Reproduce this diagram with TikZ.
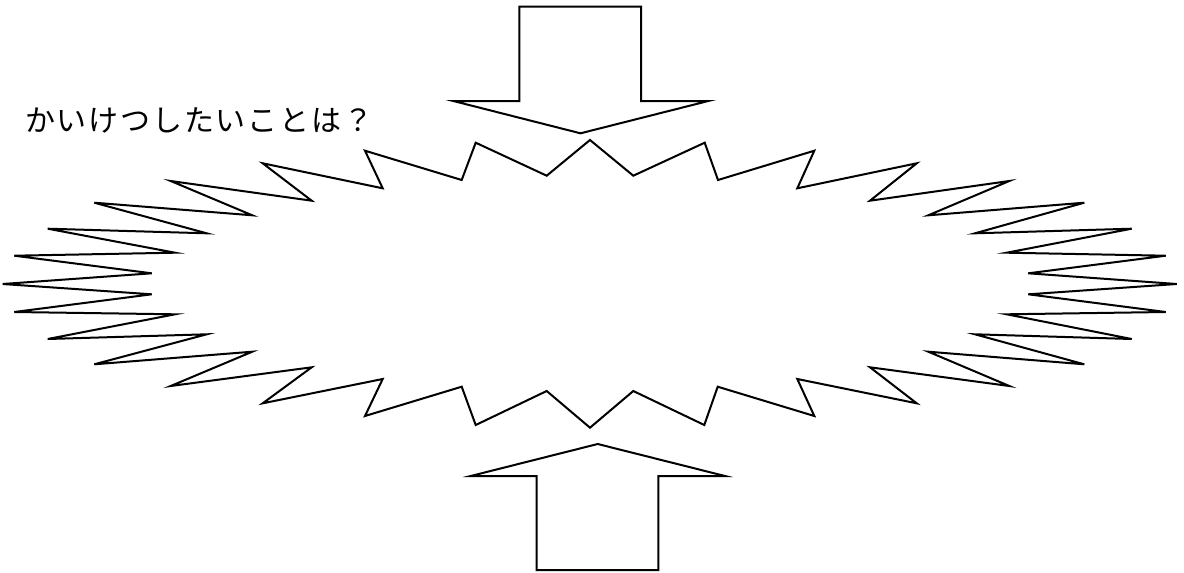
\documentclass[tikz,border=0pt]{standalone}
\usepackage{fontspec}
\newfontfamily\jpfont[LetterSpace=6]{Noto Sans CJK JP}
\usetikzlibrary{positioning}

\begin{document}
\begin{tikzpicture}[x=1pt, y=-1pt, line join=miter,
  outline/.style={draw=black, line width=2pt, fill=white},
  question/.style={font=\jpfont\fontsize{30}{30}\selectfont, inner sep=0pt, anchor=west}]
\useasboundingbox (0,0) rectangle (1184,573);

% burst
\draw[outline] (590,140) -- (633.3,175.7) -- (704.7,142.7) -- (718,180)
  -- (814.3,150.7) -- (797.3,188.3) -- (916.7,163.3) -- (870,200.7)
  -- (1009.3,181) -- (928.3,215.3) -- (1084.3,202.7) -- (975,233.3)
  -- (1131.7,228.7) -- (1006.7,252.7) -- (1165.7,255.7) -- (1028.3,273.3)
  -- (1176.7,284) -- (1028.3,294.3) -- (1165.7,312) -- (1006.7,314.3)
  -- (1131.7,339) -- (975,334.3) -- (1084.3,364.3) -- (928.3,351.7)
  -- (1009.3,386) -- (870,367.3) -- (916.7,403.3) -- (797.3,379)
  -- (814.3,416) -- (717.7,386.7) -- (704.3,425) -- (633.3,391)
  -- (590,427.7) -- (546.7,391) -- (475.7,425) -- (461.7,386.7)
  -- (365,416) -- (382.7,379) -- (262.7,403.3) -- (311.7,367.3)
  -- (170.7,386) -- (252.3,351.7) -- (94.3,364.3) -- (206.7,334.3)
  -- (47.7,339) -- (175,314.3) -- (14.3,312) -- (151.7,294.3)
  -- (2.7,284) -- (151.7,273.3) -- (14.3,255.7) -- (175,252.7)
  -- (47.7,228.7) -- (206.7,233.3) -- (94.3,202.7) -- (252.3,215.3)
  -- (170.7,181) -- (311.7,200.7) -- (262.7,163.3) -- (382.7,188.3)
  -- (365,150.7) -- (461.7,180) -- (475.7,142.7) -- (546.7,175.7) -- cycle;

% arrow from above
\draw[outline] (519.3,6.7) -- (641,6.7) -- (641,101) -- (708.3,101)
  -- (580.5,133.3) -- (453.3,101) -- (519.3,101) -- cycle;

% arrow from below
\draw[outline] (536.7,570) -- (658.3,570) -- (658.3,476) -- (725,476)
  -- (597.7,444) -- (470.7,476) -- (536.7,476) -- cycle;

\node[question] (ask) at (25,120) {かいけつしたいことは？};
\end{tikzpicture}
\end{document}
